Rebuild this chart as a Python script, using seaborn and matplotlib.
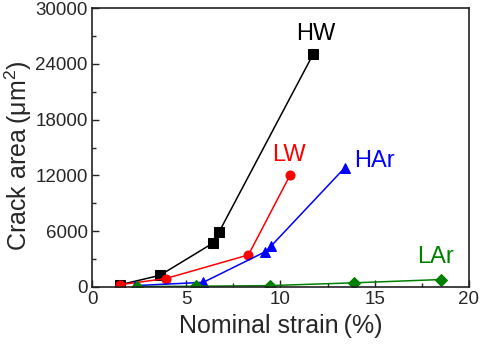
import matplotlib
matplotlib.use("Agg")
import matplotlib.pyplot as plt
from matplotlib.ticker import MultipleLocator
import seaborn as sns
import pandas as pd

# Crack area versus nominal strain for four specimen conditions
hw_strain = [1.5, 3.6, 6.4, 6.75, 11.75]
hw_area = [250, 1250, 4700, 5950, 25100]

lw_strain = [1.5, 3.9, 8.3, 10.5]
lw_area = [250, 900, 3450, 12000]

har_strain = [2.3, 5.9, 9.2, 9.5, 13.4]
har_area = [150, 500, 3800, 4400, 12800]

lar_strain = [2.4, 5.5, 9.45, 13.9, 18.5]
lar_area = [50, 80, 150, 450, 800]

series_names = ["HW", "LW", "HAr", "LAr"]
series_colors = ["#000000", "#ff0000", "#0000ff", "#008000"]
series_markers = ["s", "o", "^", "D"]
label_pos = [(11.85, 27200), (10.45, 14150), (15.0, 13500), (18.2, 3200)]

sns.set_style("ticks")
plt.rcParams["font.family"] = ["Liberation Sans", "DejaVu Sans"]
plt.rcParams["mathtext.fontset"] = "custom"
plt.rcParams["mathtext.rm"] = "Liberation Sans"

fig = plt.figure(figsize=(4.8, 3.44), dpi=100)
ax = fig.add_axes([0.1917, 0.1657, 0.977 - 0.1917, 0.9767 - 0.1657])

data = [(hw_strain, hw_area), (lw_strain, lw_area),
        (har_strain, har_area), (lar_strain, lar_area)]
for (xs, ys), name, color, marker, (lx, ly) in zip(
        data, series_names, series_colors, series_markers, label_pos):
    df = pd.DataFrame({"strain": xs, "area": ys})
    sns.lineplot(data=df, x="strain", y="area", ax=ax, color=color,
                 marker=marker, markersize=6.5 if marker != "D" else 6,
                 markeredgecolor=color, linewidth=1.1, sort=False,
                 estimator=None)
    ax.text(lx, ly, name, color=color, fontsize=17, ha="center", va="center")

ax.set_xlim(0, 20)
ax.set_ylim(0, 30000)
ax.xaxis.set_major_locator(MultipleLocator(5))
ax.xaxis.set_minor_locator(MultipleLocator(2.5))
ax.yaxis.set_major_locator(MultipleLocator(6000))
ax.yaxis.set_minor_locator(MultipleLocator(3000))
ax.tick_params(which="both", direction="in", top=False, right=False,
               labelsize=13.5, width=1.0, pad=3)
ax.tick_params(which="major", length=5)
ax.tick_params(which="minor", length=3)
for sp in ax.spines.values():
    sp.set_visible(True)
    sp.set_linewidth(1.2)
    sp.set_color("#222222")

ax.set_xlabel("Nominal strain\u2009(%)", fontsize=18, labelpad=4)
ax.set_ylabel("Crack area\u2009(μm$\\mathregular{^2}$)", fontsize=18, labelpad=2)
ax.yaxis.set_label_coords(-0.155, 0.47)

fig.savefig("out.png", dpi=100)
